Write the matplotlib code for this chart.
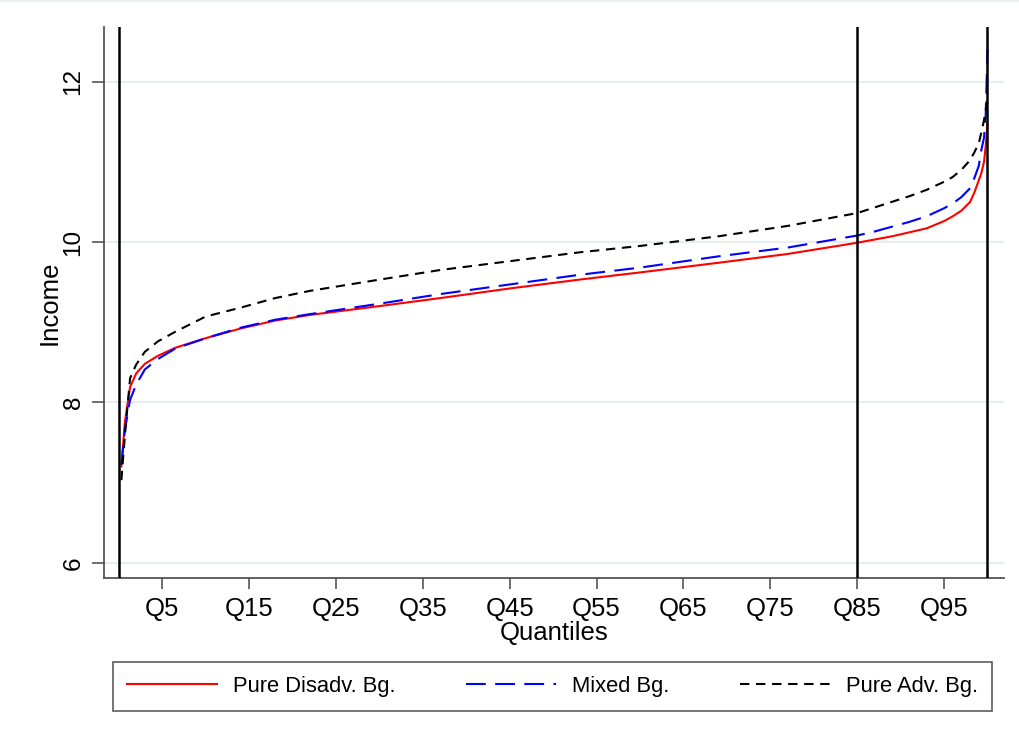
import numpy as np
import matplotlib.pyplot as plt
from matplotlib.lines import Line2D

plt.rcParams['font.family'] = ['Liberation Sans', 'DejaVu Sans']

# quantile positions
quantiles = [0.3, 0.7, 1.3, 2, 3, 4.5, 6.5, 10, 14, 18, 22, 30, 37, 45, 53,
             60, 69, 77, 85, 87, 89, 91, 93, 95, 96, 97, 98, 98.5, 99, 99.3,
             99.6, 99.8, 100]

# log income per group
pure_disadv = [7.20, 7.75, 8.19, 8.36, 8.48, 8.58, 8.68, 8.80, 8.92, 9.02, 9.09,
               9.20, 9.30, 9.42, 9.53, 9.62, 9.74, 9.85, 9.99, 10.03, 10.07,
               10.12, 10.17, 10.26, 10.32, 10.39, 10.50, 10.62, 10.77, 10.86,
               11.00, 11.20, 11.48]
mixed = [7.22, 7.65, 8.03, 8.22, 8.41, 8.54, 8.67, 8.80, 8.93, 9.03, 9.10,
         9.23, 9.35, 9.47, 9.59, 9.68, 9.82, 9.93, 10.08, 10.13, 10.19,
         10.25, 10.32, 10.42, 10.48, 10.56, 10.67, 10.80, 10.95, 11.15,
         11.30, 11.60, 12.40]
pure_adv = [7.03, 7.58, 8.30, 8.47, 8.63, 8.76, 8.88, 9.07, 9.18, 9.30, 9.39,
            9.53, 9.65, 9.76, 9.87, 9.95, 10.07, 10.20, 10.36, 10.43, 10.50,
            10.57, 10.65, 10.75, 10.81, 10.90, 11.02, 11.12, 11.23, 11.37,
            11.52, 11.65, 11.85]

xticks = [5, 15, 25, 35, 45, 55, 65, 75, 85, 95]
xticklabels = ['Q' + str(t) for t in xticks]
yticks = [6, 8, 10, 12]
vlines = [0, 85, 100]

fig = plt.figure(figsize=(10.2, 7.45), dpi=100)
ax = fig.add_axes([104 / 1020, 1 - 578 / 745, 900 / 1020, 551 / 745])

# grid
for y in yticks:
    ax.axhline(y, color='#e6eef0', lw=1.6, zorder=0)

ax.plot(quantiles, pure_disadv, color='#ff0000', lw=1.5, label='Pure Disadv. Bg.')
ax.plot(quantiles, mixed, color='#0000ff', lw=1.5, dashes=(9.5, 4.5), label='Mixed Bg.')
ax.plot(quantiles, pure_adv, color='black', lw=1.5, dashes=(4.5, 3.2), label='Pure Adv. Bg.')

for v in vlines:
    ax.axvline(v, color='black', lw=1.8, zorder=3)

ax.set_xlim(-1.7, 101.9)
ax.set_ylim(5.81, 12.68)

ax.set_xticks(xticks)
ax.set_xticklabels(xticklabels)
ax.set_yticks(yticks)
ax.set_yticklabels([str(t) for t in yticks], rotation=90, va='center')

ax.tick_params(axis='x', length=8, width=1.2, color='#555555', labelsize=18.5, pad=6)
ax.tick_params(axis='y', length=9, width=1.2, color='#555555', labelsize=17.5, pad=5)

for s in ['top', 'right']:
    ax.spines[s].set_visible(False)
for s in ['left', 'bottom']:
    ax.spines[s].set_color('#555555')
    ax.spines[s].set_linewidth(1.3)

ax.set_xlabel('Quantiles', fontsize=18.5, labelpad=0)
ax.set_ylabel('Income', fontsize=18.5, labelpad=1)

# faint border line at the very top of the image
fig.add_artist(Line2D([0, 1], [0.998, 0.998], color='#e8eef0', lw=1.5))

leg = fig.legend(loc='center left', bbox_to_anchor=(113 / 1020, 1 - 686.5 / 745),
                 ncol=3, fontsize=15.8, frameon=True, fancybox=False,
                 handlelength=4.1, handletextpad=0.75, columnspacing=3.2,
                 borderaxespad=0, borderpad=0.62)
leg.get_frame().set_edgecolor('#333333')
leg.get_frame().set_linewidth(1.2)

fig.savefig('out.png', dpi=100)
